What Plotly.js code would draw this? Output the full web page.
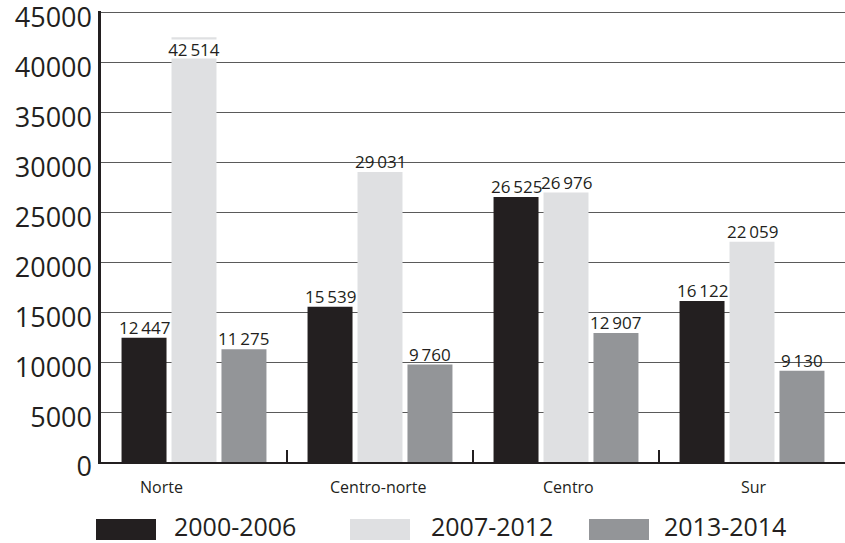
<!DOCTYPE html>
<html><head><meta charset="utf-8">
<script src="https://cdn.plot.ly/plotly-3.0.1.min.js"></script>
<style>html,body{margin:0;padding:0;background:#fff}</style>
</head><body><div id="chart" style="width:845px;height:543px"></div>
<script>
// ---- data ----
const categories = ["Norte", "Centro-norte", "Centro", "Sur"];
const seriesNames = ["2000-2006", "2007-2012", "2013-2014"];
const values2000_2006 = [12447, 15539, 26525, 16122];
const values2007_2012 = [42514, 29031, 26976, 22059];
const values2013_2014 = [11275, 9760, 12907, 9130];
const yTickVals = [0, 5000, 10000, 15000, 20000, 25000, 30000, 35000, 40000, 45000];

// ---- style / geometry ----
const seriesValues = [values2000_2006, values2007_2012, values2013_2014];
const colors = ["#231f20", "#dfe0e2", "#939598"];
const ink = "#231f20";
const FONT = "Open Sans, Noto Sans, sans-serif";
const yMax = yTickVals[yTickVals.length - 1];
const yTop = yMax + 150;
const W = 845, H = 543, L = 101, R = 0;
const T = 11;                 // top of plotting area (px)
const axisY = 462;            // pixel row of value 0
const ext = 8;                // extra room under the x axis for the label axis
const B = H - axisY - ext;
const plotW = W - L - R, plotH = H - T - B;
const mainH = plotH - ext;
const upp = yTop / mainH;     // value units per pixel
const labelDrop = 5;          // tick labels sit ~5px below their gridlines
const bargap = 0.194, bargroupgap = 0.1;
const pitch = plotW / categories.length * (1 - bargap) / seriesNames.length;
const px2x = p => (p - L) / plotW;
const px2y = p => (H - B - p) / plotH;
const fmt = n => String(n).replace(/\B(?=(\d{3})+(?!\d))/g, "\u2009");

const traces = seriesNames.map((name, s) => ({
  type: "bar", name: name, x: categories, y: seriesValues[s],
  marker: { color: colors[s], line: { width: 0 } },
  showlegend: false, hoverinfo: "x+y+name"
}));
// invisible trace so the label axis is drawn
traces.push({ type: "scatter", x: [categories[0]], y: [null], yaxis: "y2",
  showlegend: false, hoverinfo: "skip", mode: "markers", marker: { opacity: 0 } });

const annotations = [];
seriesValues.forEach((vals, s) => {
  vals.forEach((v, i) => {
    const nearTop = v > yMax - 3500;
    annotations.push(nearTop ? {
      x: categories[i], y: v, xref: "x", yref: "y",
      xshift: (s - 1) * pitch, yshift: -2, yanchor: "top",
      text: fmt(v), showarrow: false, bgcolor: "#ffffff",
      width: 52, height: 18, borderpad: 0,
      font: { family: FONT, size: 17, color: ink }
    } : {
      x: categories[i], y: v, xref: "x", yref: "y",
      xshift: (s - 1) * pitch, yshift: -3, yanchor: "bottom",
      text: fmt(v), showarrow: false,
      font: { family: FONT, size: 17, color: ink }
    });
  });
});

// category labels
const catShift = [-33, -2, 2, 2];
categories.forEach((c, i) => annotations.push({
  x: c, xref: "x", y: px2y(487), yref: "paper", yanchor: "middle",
  xshift: catShift[i], text: c, showarrow: false,
  font: { family: FONT, size: 16, color: ink }
}));

// legend
const legBoxLeft = [96, 350, 589], legTextLeft = [173, 430, 663];
const shapes = [];
seriesNames.forEach((n, s) => {
  shapes.push({
    type: "rect", xref: "paper", yref: "paper",
    x0: px2x(legBoxLeft[s]), x1: px2x(legBoxLeft[s] + 60),
    y0: px2y(540), y1: px2y(519),
    fillcolor: colors[s], line: { width: 0 }
  });
  annotations.push({
    xref: "paper", yref: "paper", x: px2x(legTextLeft[s]), y: px2y(526),
    xanchor: "left", yanchor: "middle", text: n, showarrow: false,
    borderpad: 0,
    font: { family: FONT, size: 25, color: ink }
  });
});
// top gridline at the last tick
shapes.push({ type: "line", xref: "paper", yref: "y", x0: 0, x1: 1, y0: yMax, y1: yMax,
  line: { color: "#5a5a5a", width: 1 }, layer: "below" });

const r0 = (labelDrop - ext) * upp;
const layout = {
  width: W, height: H,
  margin: { l: L, r: R, t: T, b: B, pad: 0 },
  paper_bgcolor: "#ffffff", plot_bgcolor: "rgba(0,0,0,0)",
  barmode: "group", bargap: bargap, bargroupgap: bargroupgap,
  showlegend: false,
  font: { family: FONT, color: ink },
  xaxis: {
    type: "category", anchor: "y", showticklabels: false,
    showline: true, linecolor: ink, linewidth: 2,
    ticks: "inside", tickson: "boundaries", ticklen: 12, tickwidth: 2, tickcolor: ink,
    showgrid: false, zeroline: false, fixedrange: true
  },
  yaxis: {
    domain: [ext / plotH, 1],
    range: [0, yTop], tickvals: yTickVals, showticklabels: false,
    showline: true, linecolor: ink, linewidth: 3,
    showgrid: true, gridcolor: "#5a5a5a", gridwidth: 1,
    zeroline: false, ticks: "", fixedrange: true
  },
  yaxis2: {
    domain: [0, 1], anchor: "x", side: "left",
    range: [r0, r0 + plotH * upp], tickvals: yTickVals, ticktext: yTickVals.map(String),
    showline: false, showgrid: false, zeroline: false, ticks: "",
    ticklabelstandoff: 8, ticklabeloverflow: "allow",
    tickfont: { family: FONT, size: 27, color: ink }, fixedrange: true
  },
  annotations: annotations,
  shapes: shapes
};

Plotly.newPlot("chart", traces, layout, { displayModeBar: false, staticPlot: true });
</script>
</body></html>
